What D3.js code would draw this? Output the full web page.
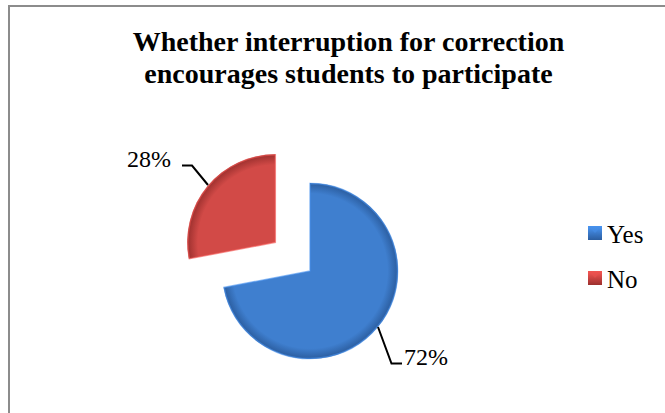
<!DOCTYPE html>
<html><head><meta charset="utf-8">
<script src="https://cdn.jsdelivr.net/npm/d3@7"></script>
<style>html,body{margin:0;padding:0;background:#fff;overflow:hidden}</style>
</head><body>
<svg id="c" width="665" height="413"></svg>
<script>
const categories = ["Yes", "No"];
const values = [72, 28];
const labels = ["72%", "28%"];
const titleLines = ["Whether interruption for correction", "encourages students to participate"];
const colors = ["#3f7fcf", "#d24a47"];
const darkColors = ["#2b5d9f", "#9c302e"];

const svg = d3.select("#c");
const defs = svg.append("defs");
const serif = "'Liberation Serif', 'Times New Roman', serif";

svg.append("rect").attr("x", 9).attr("y", 6).attr("width", 700).attr("height", 500)
  .attr("fill", "#fff").attr("stroke", "#8c8c8c").attr("stroke-width", 2);

const title = svg.append("text").attr("text-anchor", "middle")
  .attr("font-family", serif)
  .attr("font-weight", "bold").attr("font-size", 28).attr("fill", "#000");
titleLines.forEach((t, i) => title.append("tspan").attr("x", 348.5).attr("y", 51 + i * 32).text(t));

const cx = 310, cy = 271, R = 88, explode = 45;
const pie = d3.pie().sort(null).startAngle(0).endAngle(2 * Math.PI);
const arcs = pie(values);
const arc = d3.arc().innerRadius(0).outerRadius(R);

colors.forEach((c, i) => {
  const g = defs.append("radialGradient").attr("id", "g" + i)
    .attr("gradientUnits", "userSpaceOnUse").attr("cx", 0).attr("cy", 0).attr("r", R);
  g.append("stop").attr("offset", "0%").attr("stop-color", c);
  g.append("stop").attr("offset", "88%").attr("stop-color", c);
  g.append("stop").attr("offset", "100%").attr("stop-color", darkColors[i]);
  const lg = defs.append("linearGradient").attr("id", "l" + i).attr("x1", 0).attr("y1", 0).attr("x2", 0).attr("y2", 1);
  lg.append("stop").attr("offset", "0%").attr("stop-color", d3.color(c).brighter(0.5));
  lg.append("stop").attr("offset", "100%").attr("stop-color", darkColors[i]);
});

arcs.forEach((a, i) => {
  const mid = (a.startAngle + a.endAngle) / 2;
  const off = i === 1 ? explode : 0;
  const ox = cx + off * Math.sin(mid), oy = cy - off * Math.cos(mid);
  const g = svg.append("g").attr("transform", `translate(${ox},${oy})`);
  g.append("path").attr("d", arc(a)).attr("fill", `url(#g${i})`);
  g.append("path").attr("d", d3.arc().innerRadius(0).outerRadius(R - 0.5)(a))
    .attr("fill", "none").attr("stroke", d3.color(colors[i]).brighter(0.4)).attr("stroke-width", 1.5)
    .attr("stroke-opacity", 0.6);
});

// labels and leader lines
const lab = svg.append("g").attr("font-family", serif)
  .attr("font-size", 24).attr("fill", "#000");
lab.append("text").attr("x", 127).attr("y", 167).text(labels[1]);
svg.append("polyline").attr("points", "182,165.5 192,165.5 208,185")
  .attr("fill", "none").attr("stroke", "#000").attr("stroke-width", 2);
lab.append("text").attr("x", 404).attr("y", 365).text(labels[0]);
svg.append("polyline").attr("points", "378,327 391.5,363.5 402,363.5")
  .attr("fill", "none").attr("stroke", "#000").attr("stroke-width", 2);

// legend
const leg = svg.append("g");
categories.forEach((c, i) => {
  const y = 226 + i * 45;
  leg.append("rect").attr("x", 588).attr("y", y).attr("width", 14).attr("height", 14)
    .attr("fill", `url(#l${i})`);
  leg.append("path").attr("d", `M${588},${y} L${595},${y + 7} L${602},${y} Z`)
    .attr("fill", d3.color(colors[i]).brighter(0.3)).attr("opacity", 0.6);
  leg.append("text").attr("x", 607).attr("y", y + 17)
    .attr("font-family", serif)
    .attr("font-size", 25).attr("fill", "#000").text(c);
});
</script>
</body></html>
